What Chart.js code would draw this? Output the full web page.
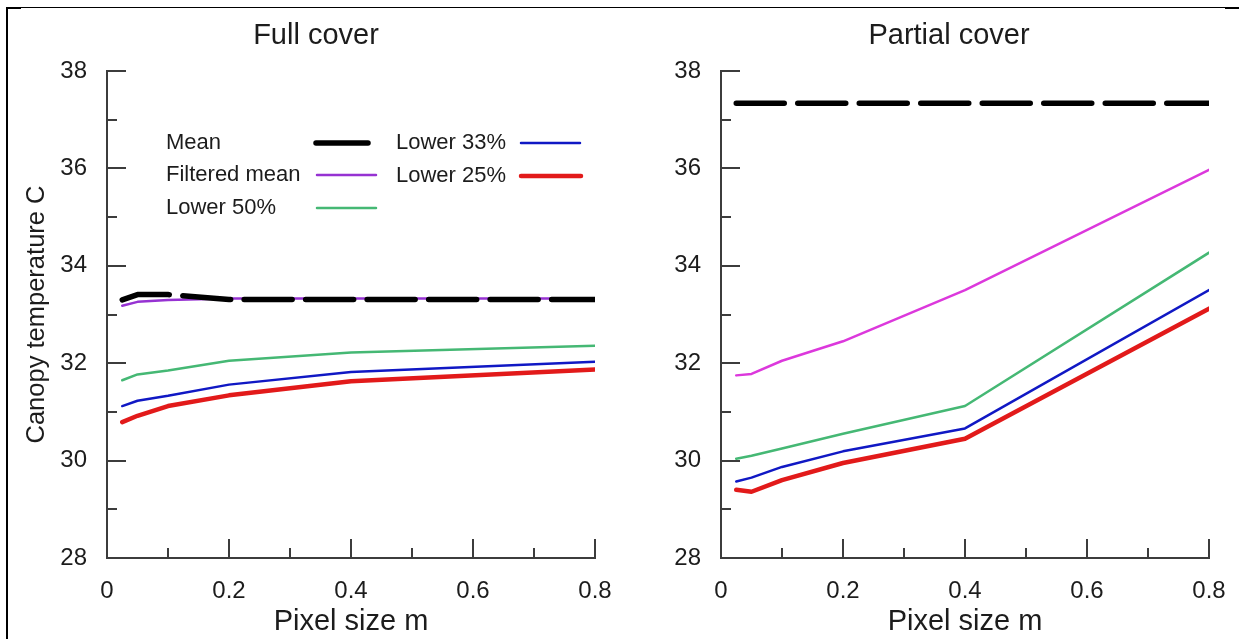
<!DOCTYPE html>
<html>
<head>
<meta charset="utf-8">
<script src="https://cdn.jsdelivr.net/npm/chart.js@4.4.1/dist/chart.umd.min.js"></script>
<style>
  html, body { margin:0; padding:0; background:#fff; width:1239px; height:639px; overflow:hidden; }
  #wrap { position:relative; width:1239px; height:639px; }
  canvas { position:absolute; top:0; }
  #cL { left:0; }
  #cR { left:620px; }
  .fr { position:absolute; background:#000; z-index:5; }
</style>
</head>
<body>
<div id="wrap">
  <canvas id="cL" width="620" height="639"></canvas>
  <canvas id="cR" width="619" height="639"></canvas>
  <div class="fr" style="left:6px;top:7px;width:2px;height:632px;"></div>
  <div class="fr" style="left:6px;top:7px;width:1220px;height:1px;"></div>
  <div class="fr" style="left:6px;top:7px;width:15px;height:2px;"></div>
  <div class="fr" style="left:1225px;top:7px;width:14px;height:2px;"></div>
</div>
<script>
// ---------- data ----------
const pixelSizes = [0.025, 0.05, 0.1, 0.2, 0.4, 0.8];
const seriesNames = ['Mean', 'Filtered mean', 'Lower 50%', 'Lower 33%', 'Lower 25%'];
const panelTitles = ['Full cover', 'Partial cover'];
const yAxisTitle = 'Canopy temperature C';
const xAxisTitle = 'Pixel size m';

const fullMean     = [33.30, 33.41, 33.41, 33.31, 33.31, 33.31];
const fullFiltered = [33.18, 33.26, 33.30, 33.33, 33.33, 33.33];
const fullLower50  = [31.65, 31.77, 31.85, 32.05, 32.22, 32.36];
const fullLower33  = [31.12, 31.23, 31.33, 31.56, 31.82, 32.03];
const fullLower25  = [30.79, 30.92, 31.12, 31.34, 31.63, 31.87];

const partMean     = [37.34, 37.34, 37.34, 37.34, 37.34, 37.34];
const partFiltered = [31.75, 31.78, 32.05, 32.45, 33.50, 35.97];
const partLower50  = [30.04, 30.10, 30.25, 30.55, 31.12, 34.27];
const partLower33  = [29.57, 29.65, 29.87, 30.19, 30.66, 33.50];
const partLower25  = [29.40, 29.36, 29.60, 29.95, 30.45, 33.12];

const yMajorTicks = [28, 30, 32, 34, 36, 38];
const yMinorTicks = [29, 31, 33, 35, 37];
const xMajorTicks = [0.2, 0.4, 0.6, 0.8];
const xMinorTicks = [0.1, 0.3, 0.5, 0.7];

// ---------- styles ----------
const FONT = '"Liberation Sans", Arial, sans-serif';
const TEXT = '#1c1c1c';
const AXIS = '#3c3c3c';
Chart.defaults.font.family = FONT;
Chart.defaults.color = TEXT;

function series(label, values, color, width, dash) {
  return {
    label: label,
    data: pixelSizes.map((x, i) => ({ x: x, y: values[i] })),
    borderColor: color,
    backgroundColor: color,
    borderWidth: width,
    borderDash: dash || [],
    borderCapStyle: 'round',
    borderJoinStyle: 'round',
    pointRadius: 0,
    tension: 0,
    fill: false
  };
}

const decor = {
  id: 'decor',
  afterDraw(chart, args, o) {
    const ctx = chart.ctx;
    const xs = chart.scales.x, ys = chart.scales.y;
    ctx.save();
    ctx.strokeStyle = AXIS;
    ctx.lineWidth = 2;
    ctx.lineCap = 'butt';
    const x0 = xs.getPixelForValue(0);
    const y0 = ys.getPixelForValue(28);
    yMajorTicks.forEach(v => { const p = Math.round(ys.getPixelForValue(v)); ctx.beginPath(); ctx.moveTo(x0, p); ctx.lineTo(x0 + 19, p); ctx.stroke(); });
    yMinorTicks.forEach(v => { const p = Math.round(ys.getPixelForValue(v)); ctx.beginPath(); ctx.moveTo(x0, p); ctx.lineTo(x0 + 10, p); ctx.stroke(); });
    xMajorTicks.forEach(v => { const p = Math.round(xs.getPixelForValue(v)); ctx.beginPath(); ctx.moveTo(p, y0); ctx.lineTo(p, y0 - 19); ctx.stroke(); });
    xMinorTicks.forEach(v => { const p = Math.round(xs.getPixelForValue(v)); ctx.beginPath(); ctx.moveTo(p, y0); ctx.lineTo(p, y0 - 10); ctx.stroke(); });
    // panel title
    ctx.fillStyle = TEXT;
    ctx.font = '29px ' + FONT;
    ctx.textAlign = 'center';
    ctx.textBaseline = 'alphabetic';
    ctx.fillText(o.title, o.titleX, 44);
    // legend
    if (o.legend) {
      ctx.font = '22px ' + FONT;
      ctx.textAlign = 'left';
      ctx.textBaseline = 'middle';
      o.legend.forEach((s, i) => {
        const ds = chart.data.datasets[i];
        ctx.fillStyle = TEXT;
        ctx.fillText(ds.label, s.tx, s.y);
        ctx.strokeStyle = ds.borderColor;
        ctx.lineWidth = ds.borderWidth;
        ctx.lineCap = 'round';
        ctx.beginPath(); ctx.moveTo(s.l1, s.y); ctx.lineTo(s.l2, s.y); ctx.stroke();
      });
    }
    ctx.restore();
  }
};

function makeChart(id, datasets, opts) {
  return new Chart(document.getElementById(id), {
    type: 'line',
    data: { datasets: datasets },
    plugins: [decor],
    options: {
      responsive: false,
      animation: false,
      devicePixelRatio: 1,
      layout: { padding: { top: 71, right: opts.padRight, left: 0, bottom: 0 } },
      plugins: {
        legend: { display: false },
        tooltip: { enabled: false },
        title: { display: false },
        decor: { title: opts.title, titleX: opts.titleX, legend: opts.legend }
      },
      scales: {
        x: {
          type: 'linear', min: 0, max: 0.8,
          afterFit(s) { s.height = 81; s.paddingLeft = 0; s.paddingRight = 0; },
          grid: { drawOnChartArea: false, drawTicks: false },
          border: { display: true, color: AXIS, width: 2 },
          ticks: { stepSize: 0.2, padding: 19, color: TEXT, font: { size: 24 }, maxRotation: 0,
                   callback: v => String(+(+v).toFixed(1)) },
          title: { display: true, text: xAxisTitle, color: TEXT, font: { size: 29 }, padding: { top: 0, bottom: 0 } }
        },
        y: {
          type: 'linear', min: 28, max: 38,
          afterFit(s) { s.width = opts.yWidth; s.paddingTop = 0; s.paddingBottom = 0; },
          grid: { drawOnChartArea: false, drawTicks: false },
          border: { display: true, color: AXIS, width: 2 },
          ticks: { stepSize: 2, padding: 20, color: TEXT, font: { size: 24 } },
          title: { display: opts.yTitle, text: yAxisTitle, color: TEXT, font: { size: 25.5 }, padding: { top: 22, bottom: 0 } }
        }
      }
    }
  });
}

const meanDash = [48, 13.5];

makeChart('cL', [
  series(seriesNames[0], fullMean, '#000000', 5.5, meanDash),
  series(seriesNames[1], fullFiltered, '#9632d2', 2.5),
  series(seriesNames[2], fullLower50, '#45b874', 2.5),
  series(seriesNames[3], fullLower33, '#1018c4', 2.5),
  series(seriesNames[4], fullLower25, '#e21a1a', 4.5)
], {
  padRight: 25, yWidth: 107, yTitle: true, title: panelTitles[0], titleX: 316,
  legend: [
    { tx: 166, y: 143, l1: 316, l2: 368 },
    { tx: 166, y: 175, l1: 317, l2: 376 },
    { tx: 166, y: 208, l1: 317, l2: 376 },
    { tx: 396, y: 143, l1: 521, l2: 580 },
    { tx: 396, y: 176, l1: 521, l2: 581 }
  ]
});

makeChart('cR', [
  series(seriesNames[0], partMean, '#000000', 5.5, meanDash),
  series(seriesNames[1], partFiltered, '#dc38dc', 2.5),
  series(seriesNames[2], partLower50, '#45b874', 2.5),
  series(seriesNames[3], partLower33, '#1018c4', 2.5),
  series(seriesNames[4], partLower25, '#e21a1a', 4.5)
], {
  padRight: 30, yWidth: 101, yTitle: false, title: panelTitles[1], titleX: 329, legend: null
});
</script>
</body>
</html>
